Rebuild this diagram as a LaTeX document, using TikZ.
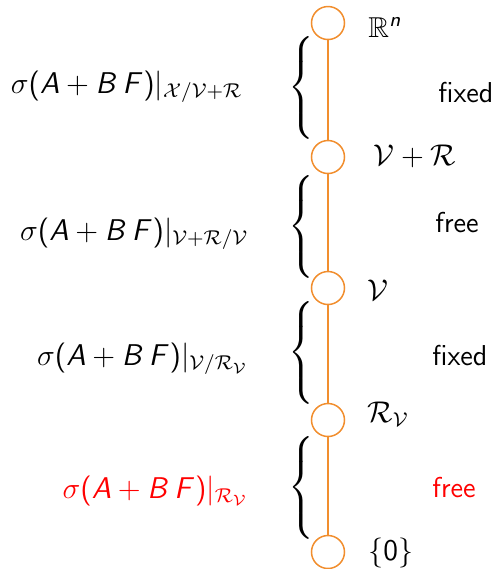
\documentclass[tikz,border=0pt]{standalone}
\usepackage{amsmath}
\usepackage{amssymb}
\usetikzlibrary{positioning}
% sans serif math, beamer-like
\DeclareSymbolFont{operators}{OT1}{cmss}{m}{n}
\DeclareSymbolFont{sfletters}{OT1}{cmss}{m}{sl}
\DeclareMathSymbol{A}{\mathalpha}{sfletters}{`A}
\DeclareMathSymbol{B}{\mathalpha}{sfletters}{`B}
\DeclareMathSymbol{F}{\mathalpha}{sfletters}{`F}
\DeclareMathSymbol{n}{\mathalpha}{sfletters}{`n}
\definecolor{lineorange}{RGB}{241,142,46}
\newcommand{\specrest}[1]{$\sigma(A+B\,F)|_{#1}$}
\newcommand{\bigbrace}{$\left\{\vrule width0pt height 24pt depth 19pt\right.$}

\begin{document}
\begin{tikzpicture}[x=0.4pt, y=-0.4pt,
  every node/.style={font=\fontsize{11.5}{14}\selectfont},
  level/.style={circle, draw=lineorange, line width=0.6pt,
                minimum size=13.2pt, inner sep=0pt},
  link/.style={draw=lineorange, line width=0.5pt},
  space/.style={anchor=base west, inner sep=0pt},
  spec/.style={anchor=base east, inner sep=0pt},
  kind/.style={anchor=base west, inner sep=0pt,
               font=\sffamily\fontsize{11.5}{14}\selectfont},
  brace/.style={anchor=west, inner sep=0pt},
]
  \useasboundingbox (0,0) rectangle (495,569);

  % lattice of subspaces
  \node[level] (top) at (328,23) {};
  \node[level] (vr) at (328,157) {};
  \node[level] (v) at (328,288) {};
  \node[level] (rv) at (328,420) {};
  \node[level] (zero) at (328,552) {};

  \draw[link] (top) -- (vr);
  \draw[link] (vr) -- (v);
  \draw[link] (v) -- (rv);
  \draw[link] (rv) -- (zero);

  \node[space] (rn_lbl) at (368,37) {$\mathbb{R}^n$};
  \node[space] (vr_lbl) at (373,165) {$\mathcal{V}+\mathcal{R}$};
  \node[space] (v_lbl) at (367,300) {$\mathcal{V}$};
  \node[space] (rv_lbl) at (367,422) {$\mathcal{R}_{\mathcal{V}}$};
  \node[space] (zero_lbl) at (368,560) {$\{0\}$};

  % braces between levels
  \node[brace] (br1) at (288,89) {\bigbrace};
  \node[brace] (br2) at (288,228) {\bigbrace};
  \node[brace] (br3) at (288,354) {\bigbrace};
  \node[brace] (br4) at (288,489) {\bigbrace};

  % spectra on the left
  \node[spec] (sp1) at (243,93) {\specrest{\mathcal{X}/\mathcal{V}+\mathcal{R}}};
  \node[spec] (sp2) at (249,240) {\specrest{\mathcal{V}+\mathcal{R}/\mathcal{V}}};
  \node[spec] (sp3) at (249,365) {\specrest{\mathcal{V}/\mathcal{R}_{\mathcal{V}}}};
  \node[spec, text=red] (sp4) at (249,498) {\specrest{\mathcal{R}_{\mathcal{V}}}};

  % fixed or free
  \node[kind] (k1) at (438,102) {fixed};
  \node[kind] (k2) at (435,232) {free};
  \node[kind] (k3) at (432,365) {fixed};
  \node[kind, text=red] (k4) at (432,497) {free};
\end{tikzpicture}
\end{document}
